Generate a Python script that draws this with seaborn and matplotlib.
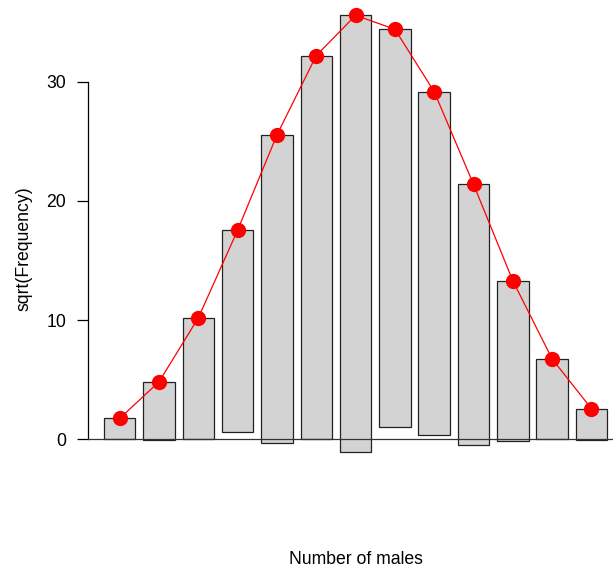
import numpy as np
import pandas as pd
import matplotlib
matplotlib.use("Agg")
import matplotlib.pyplot as plt
import seaborn as sns

# Families of 12 children: number of males and observed frequencies
males = list(range(13))
observed = [3, 24, 104, 286, 670, 1033, 1343, 1112, 829, 478, 181, 45, 7]
# Fitted values on the square-root scale
fitted_sqrt = [1.76, 4.83, 10.20, 17.56, 25.55, 32.20, 35.57, 34.40, 29.16, 21.39, 13.30, 6.74, 2.57]
yticks = [0, 10, 20, 30]

df = pd.DataFrame({
    "males": males,
    "obs_sqrt": np.sqrt(observed),
    "fit_sqrt": fitted_sqrt,
})
df["bottom"] = df["fit_sqrt"] - df["obs_sqrt"]

sns.set_theme(style="white")
plt.rcParams["font.family"] = ["Liberation Sans", "DejaVu Sans"]
plt.rcParams["text.color"] = "black"
plt.rcParams["axes.labelcolor"] = "black"
plt.rcParams["ytick.color"] = "black"
plt.rcParams["xtick.color"] = "black"

fig = plt.figure(figsize=(6.13, 5.71), dpi=100)
ax = fig.add_axes([0.1441, 0.1772, 0.856, 0.8266])

# Hanging bars: each bar hangs from the fitted value down by sqrt(observed)
ax.bar(df["males"], df["obs_sqrt"], bottom=df["bottom"], width=0.8,
       color="#D3D3D3", edgecolor="#222222", linewidth=0.9, zorder=2)

# Reference line at zero
ax.axhline(0, color="#333333", linewidth=0.9, zorder=3)

# Fitted curve
sns.lineplot(data=df, x="males", y="fit_sqrt", ax=ax, color="red",
             linewidth=0.9, marker="o", markersize=11, markeredgewidth=0,
             zorder=4, clip_on=False)

ax.set_xlim(-0.8, 12.55)
ax.set_ylim(-2.56, 37.04)

for s in ["top", "right", "bottom"]:
    ax.spines[s].set_visible(False)
ax.spines["left"].set_bounds(0, 30)
ax.spines["left"].set_color("black")
ax.spines["left"].set_linewidth(0.9)

ax.set_xticks([])
ax.set_yticks(yticks)
ax.set_yticklabels([str(t) for t in yticks], fontsize=12.7, color="black")
ax.tick_params(axis="y", length=8, width=0.9, color="black", pad=8, left=True)
ax.set_xlabel("")
ax.set_ylabel("")

fig.text(24 / 613, 1 - 249 / 571, "sqrt(Frequency)", rotation=90,
         ha="center", va="center", fontsize=12.7, color="black")
fig.text(356 / 613, 1 - 559 / 571, "Number of males",
         ha="center", va="center", fontsize=12.7, color="black")

fig.savefig("out.png", dpi=100)
